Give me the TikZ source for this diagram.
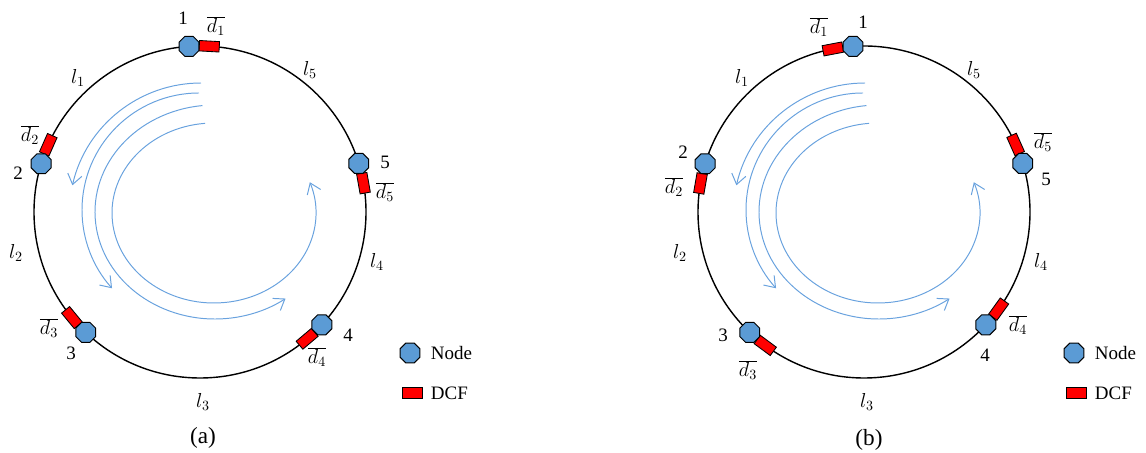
\documentclass[tikz,border=0pt]{standalone}
\usepackage{fontspec}
\setmainfont{Liberation Serif}
\usetikzlibrary{shapes.geometric,arrows.meta}

\definecolor{nodeblue}{RGB}{91,155,213}
\definecolor{flowblue}{RGB}{105,162,222}

\tikzset{
  ring/.style={draw=black,line width=1pt},
  ringnode/.style={regular polygon,regular polygon sides=8,draw=black,line width=0.7pt,
    fill=nodeblue,minimum size=0.54cm,inner sep=0pt},
  dcf/.style={rectangle,draw=black,line width=0.6pt,fill=red,
    minimum width=0.5cm,minimum height=0.26cm,inner sep=0pt},
  flow/.style={draw=flowblue,line width=0.7pt,-{Straight Barb[length=2.5mm,width=3.6mm]}},
  sym/.style={font=\fontsize{14.5}{17}\selectfont},
  caption/.style={font=\fontsize{16.5}{19}\selectfont}
}

\begin{document}
\begin{tikzpicture}[x=0.025cm,y=0.025cm,font=\fontsize{13.5}{16}\selectfont]
\useasboundingbox (0,0) rectangle (1146,453);

% Ring (a)
\coordinate (ca) at (200,241);
\draw[ring] (ca) circle (166);
\draw[flow] ([shift={(90:132)}]201,238) arc[start angle=90,end angle=167,radius=132];
\draw[flow] ([shift={(90:117)}]199,243) arc[start angle=90,end angle=222,radius=117];
\draw[flow] ([shift={(96:120 and 107)}]215,241) arc[start angle=96,end angle=306,x radius=120,y radius=107];
\draw[flow] ([shift={(95:102 and 90)}]214,240) arc[start angle=95,end angle=380,x radius=102,y radius=90];

\node[dcf,rotate=-3.2] (ad1) at ([shift={(86.8:166)}]ca) {};
\node[dcf,rotate=66.1] (ad2) at ([shift={(156.1:166)}]ca) {};
\node[dcf,rotate=129.5] (ad3) at ([shift={(219.5:166)}]ca) {};
\node[dcf,rotate=220.2] (ad4) at ([shift={(310.2:166)}]ca) {};
\node[dcf,rotate=-80] (ad5) at ([shift={(10:166)}]ca) {};

\node[ringnode] (a1) at ([shift={(93.8:166)}]ca) {};
\node[ringnode] (a2) at ([shift={(163.1:166)}]ca) {};
\node[ringnode] (a3) at ([shift={(226.5:166)}]ca) {};
\node[ringnode] (a4) at ([shift={(317.2:166)}]ca) {};
\node[ringnode] (a5) at ([shift={(17:166)}]ca) {};

% Labels (a)
\node (a1l) at (183,435) {1};
\node (a2l) at (18,280) {2};
\node (a3l) at (71,100) {3};
\node (a4l) at (348,118) {4};
\node (a5l) at (385,291) {5};
\node[sym] (ad1l) at (216,427) {$\overline{d_1}$};
\node[sym] (ad2l) at (30,318) {$\overline{d_2}$};
\node[sym] (ad3l) at (49,125) {$\overline{d_3}$};
\node[sym] (ad4l) at (317,96) {$\overline{d_4}$};
\node[sym] (ad5l) at (385,261) {$\overline{d_5}$};
\node[sym] (al1) at (78,375) {$l_1$};
\node[sym] (al2) at (16,200) {$l_2$};
\node[sym] (al3) at (203,51) {$l_3$};
\node[sym] (al4) at (377,191) {$l_4$};
\node[sym] (al5) at (310,383) {$l_5$};
\node[caption] (acap) at (203,15) {(a)};

% Legend (a)
\node[ringnode] (akey1) at (410,100) {};
\node[anchor=west] (akey1t) at (426,100) {Node};
\node[dcf] (akey2) at (412,60) {};
\node[anchor=west] (akey2t) at (426,60) {DCF};

% Ring (b)
\begin{scope}[shift={(664,0)}]
\coordinate (cb) at (200,241);
\draw[ring] (cb) circle (166);
\draw[flow] ([shift={(90:132)}]201,238) arc[start angle=90,end angle=167,radius=132];
\draw[flow] ([shift={(90:117)}]199,243) arc[start angle=90,end angle=222,radius=117];
\draw[flow] ([shift={(96:120 and 107)}]215,241) arc[start angle=96,end angle=306,x radius=120,y radius=107];
\draw[flow] ([shift={(95:102 and 90)}]214,240) arc[start angle=95,end angle=380,x radius=102,y radius=90];

\node[dcf,rotate=10.8] (bd1) at ([shift={(100.8:166)}]cb) {};
\node[dcf,rotate=80.1] (bd2) at ([shift={(170.1:166)}]cb) {};
\node[dcf,rotate=143.5] (bd3) at ([shift={(233.5:166)}]cb) {};
\node[dcf,rotate=234.2] (bd4) at ([shift={(324.2:166)}]cb) {};
\node[dcf,rotate=-66] (bd5) at ([shift={(24:166)}]cb) {};

\node[ringnode] (b1) at ([shift={(93.8:166)}]cb) {};
\node[ringnode] (b2) at ([shift={(163.1:166)}]cb) {};
\node[ringnode] (b3) at ([shift={(226.5:166)}]cb) {};
\node[ringnode] (b4) at ([shift={(317.2:166)}]cb) {};
\node[ringnode] (b5) at ([shift={(17:166)}]cb) {};

% Labels (b)
\node (b1l) at (199,431) {1};
\node (b2l) at (19,301) {2};
\node (b3l) at (59,118) {3};
\node (b4l) at (321,98) {4};
\node (b5l) at (382,274) {5};
\node[sym] (bd1l) at (155,426) {$\overline{d_1}$};
\node[sym] (bd2l) at (10,266) {$\overline{d_2}$};
\node[sym] (bd3l) at (84,83) {$\overline{d_3}$};
\node[sym] (bd4l) at (354,128) {$\overline{d_4}$};
\node[sym] (bd5l) at (379,311) {$\overline{d_5}$};
\node[sym] (bl1) at (78,375) {$l_1$};
\node[sym] (bl2) at (16,200) {$l_2$};
\node[sym] (bl3) at (203,51) {$l_3$};
\node[sym] (bl4) at (377,191) {$l_4$};
\node[sym] (bl5) at (310,383) {$l_5$};
\node[caption] (bcap) at (205,13) {(b)};

% Legend (b)
\node[ringnode] (bkey1) at (410,100) {};
\node[anchor=west] (bkey1t) at (426,100) {Node};
\node[dcf] (bkey2) at (412,60) {};
\node[anchor=west] (bkey2t) at (426,60) {DCF};
\end{scope}

\end{tikzpicture}
\end{document}
